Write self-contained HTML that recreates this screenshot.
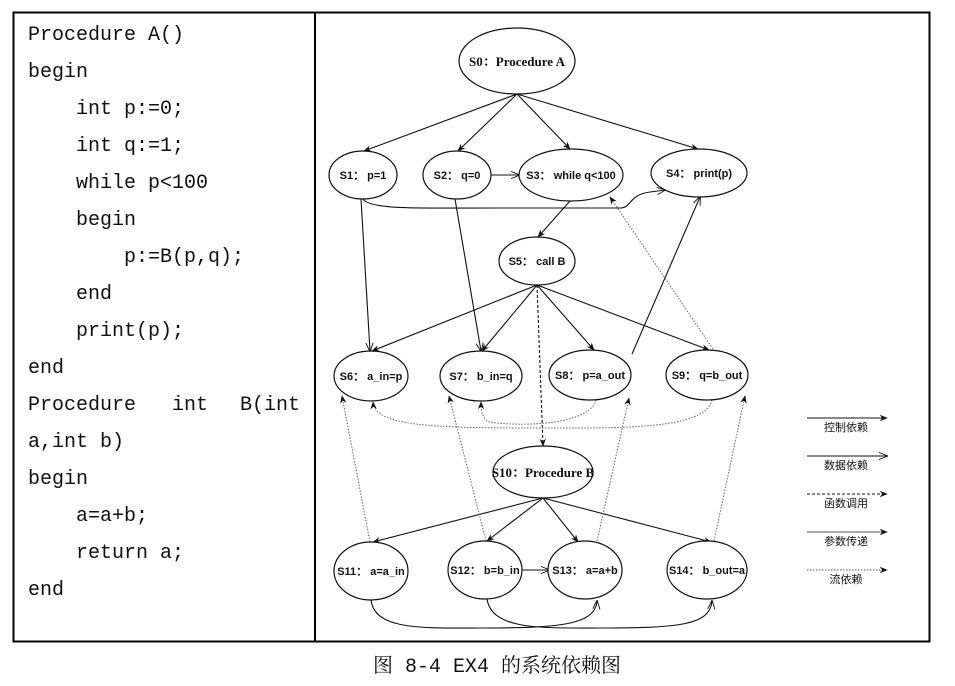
<!DOCTYPE html>
<html><head><meta charset="utf-8"><style>
html,body{margin:0;padding:0;background:#fff;}
svg{display:block}
.code{font-family:"Liberation Mono","Noto Serif CJK SC",monospace;font-size:20px;fill:#111}
.n{font-family:"Liberation Sans",sans-serif;font-size:11px;font-weight:bold;fill:#111}
.ns{font-family:"Liberation Serif","Noto Serif CJK SC",serif;font-size:13px;font-weight:bold;fill:#111}
.lg{font-family:"Liberation Sans","Noto Sans CJK SC",sans-serif;font-size:11px;fill:#111}
.cap{font-family:"Liberation Mono","Noto Serif CJK SC",serif;font-size:20px;fill:#111}
</style></head><body>
<svg width="955" height="686" viewBox="0 0 955 686" xmlns="http://www.w3.org/2000/svg">
<defs>
<marker id="f" viewBox="0 0 10 10" refX="9" refY="5" markerWidth="8" markerHeight="8" orient="auto" markerUnits="userSpaceOnUse"><path d="M0,1 L10,5 L0,9 L3,5 z" fill="#111"/></marker>
<marker id="o" viewBox="0 0 10 10" refX="9" refY="5" markerWidth="9" markerHeight="9" orient="auto" markerUnits="userSpaceOnUse"><path d="M0,1 L10,5 L0,9" fill="none" stroke="#111" stroke-width="1"/></marker>
</defs>
<rect x="13.5" y="12.5" width="916" height="629" fill="none" stroke="#000" stroke-width="2"/>
<line x1="315" y1="12" x2="315" y2="642" stroke="#000" stroke-width="2"/>
<g class="code">
<text x="28" y="40">Procedure A()</text>
<text x="28" y="77">begin</text>
<text x="76" y="114">int p:=0;</text>
<text x="76" y="151">int q:=1;</text>
<text x="76" y="188">while p&lt;100</text>
<text x="76" y="225">begin</text>
<text x="124" y="262">p:=B(p,q);</text>
<text x="76" y="299">end</text>
<text x="76" y="336">print(p);</text>
<text x="28" y="373">end</text>
<text x="28" y="410">Procedure</text><text x="172" y="410">int</text><text x="240" y="410">B(int</text>
<text x="28" y="447">a,int b)</text>
<text x="28" y="484">begin</text>
<text x="76" y="521">a=a+b;</text>
<text x="76" y="558">return a;</text>
<text x="28" y="595">end</text>
</g>
<g fill="none" stroke="#111" stroke-width="1.1">
<!-- control -->
<line x1="517" y1="94" x2="364" y2="151" marker-end="url(#f)"/>
<line x1="517" y1="94" x2="458" y2="151" marker-end="url(#f)"/>
<line x1="517" y1="94" x2="570" y2="149" marker-end="url(#f)"/>
<line x1="517" y1="94" x2="698" y2="149" marker-end="url(#f)"/>
<line x1="570" y1="201" x2="538" y2="237" marker-end="url(#f)"/>
<line x1="537" y1="285" x2="372" y2="351" marker-end="url(#f)"/>
<line x1="537" y1="285" x2="482" y2="351" marker-end="url(#f)"/>
<line x1="537" y1="285" x2="594" y2="350" marker-end="url(#f)"/>
<line x1="537" y1="285" x2="709" y2="350" marker-end="url(#f)"/>
<line x1="543" y1="498" x2="373" y2="542" marker-end="url(#f)"/>
<line x1="543" y1="498" x2="487" y2="541" marker-end="url(#f)"/>
<line x1="543" y1="498" x2="578" y2="542" marker-end="url(#f)"/>
<line x1="543" y1="498" x2="711" y2="542" marker-end="url(#f)"/>
<line x1="361" y1="199" x2="370" y2="351" marker-end="url(#o)"/>
<line x1="455" y1="199" x2="481" y2="351" marker-end="url(#o)"/>
<!-- data -->
<path d="M363,199 C370,210 420,208 500,208 L620,208 C632,208 628,195 650,192 L665,190" marker-end="url(#o)"/>
<line x1="491" y1="175" x2="519" y2="175" marker-end="url(#o)"/>
<line x1="521" y1="570" x2="549" y2="570" marker-end="url(#o)"/>
<line x1="632" y1="354" x2="700" y2="197" marker-end="url(#o)"/>
<path d="M371,600 C375,630 420,628 480,628 C560,628 595,625 597,601" marker-end="url(#o)"/>
<path d="M487,599 C492,630 540,628 600,628 C680,628 710,625 712,601" marker-end="url(#o)"/>
</g>
<!-- call -->
<line x1="537" y1="285" x2="543" y2="446" stroke="#111" stroke-width="1.1" stroke-dasharray="3,2" marker-end="url(#f)"/>
<!-- param -->
<g stroke="#666" stroke-width="1" stroke-dasharray="1.5,1.5" fill="none">
<line x1="370" y1="542" x2="342" y2="396" marker-end="url(#f)"/>
<line x1="486" y1="541" x2="449" y2="396" marker-end="url(#f)"/>
<line x1="597" y1="541" x2="629" y2="398" marker-end="url(#f)"/>
<line x1="714" y1="541" x2="745" y2="396" marker-end="url(#f)"/>
<!-- flow -->
<line x1="713" y1="349" x2="610" y2="197" marker-end="url(#f)"/>
<path d="M596,400 C590,425 520,427 490,422 C482,420 481,410 481,402" marker-end="url(#f)"/>
<path d="M712,400 C705,430 620,428 540,428 C430,428 375,426 373,402" marker-end="url(#f)"/>
</g>
<g fill="#fff" stroke="#111" stroke-width="1.2">
<ellipse cx="517" cy="61" rx="58" ry="33"/>
<ellipse cx="363" cy="175" rx="34" ry="24"/>
<ellipse cx="457" cy="175" rx="34" ry="24"/>
<ellipse cx="571" cy="175" rx="52" ry="26"/>
<ellipse cx="699" cy="173" rx="48" ry="24"/>
<ellipse cx="537" cy="261" rx="38" ry="24"/>
<ellipse cx="371" cy="376" rx="37" ry="25"/>
<ellipse cx="481" cy="376" rx="41" ry="25"/>
<ellipse cx="590" cy="375" rx="41" ry="25"/>
<ellipse cx="707" cy="375" rx="41" ry="25"/>
<ellipse cx="543" cy="472" rx="50" ry="26"/>
<ellipse cx="371" cy="571" rx="37" ry="29"/>
<ellipse cx="485" cy="570" rx="37" ry="29"/>
<ellipse cx="585" cy="570" rx="37" ry="29"/>
<ellipse cx="707" cy="570" rx="40" ry="29"/>
</g>
<g text-anchor="middle">
<text class="ns" x="517" y="66">S0：Procedure A</text>
<text class="n" x="363" y="179">S1： p=1</text>
<text class="n" x="457" y="179">S2： q=0</text>
<text class="n" x="571" y="179">S3： while q&lt;100</text>
<text class="n" x="699" y="177">S4： print(p)</text>
<text class="n" x="537" y="265">S5： call B</text>
<text class="n" x="371" y="380">S6： a_in=p</text>
<text class="n" x="481" y="380">S7： b_in=q</text>
<text class="n" x="590" y="379">S8： p=a_out</text>
<text class="n" x="707" y="379">S9： q=b_out</text>
<text class="ns" x="543" y="477">S10：Procedure B</text>
<text class="n" x="371" y="575">S11： a=a_in</text>
<text class="n" x="485" y="574">S12： b=b_in</text>
<text class="n" x="585" y="574">S13： a=a+b</text>
<text class="n" x="707" y="574">S14： b_out=a</text>
</g>
<g stroke="#111" stroke-width="1.1" fill="none">
<line x1="807" y1="418" x2="887" y2="418" marker-end="url(#f)"/>
<line x1="807" y1="456" x2="887" y2="456" marker-end="url(#o)"/>
<line x1="807" y1="494" x2="887" y2="494" stroke-dasharray="3,2" marker-end="url(#f)"/>
<line x1="807" y1="532" x2="887" y2="532" stroke="#555" marker-end="url(#f)"/>
<line x1="807" y1="570" x2="887" y2="570" stroke="#555" stroke-dasharray="1.5,1.5" marker-end="url(#f)"/>
</g>
<g class="lg" text-anchor="middle">
<text x="846" y="431">控制依赖</text>
<text x="846" y="469">数据依赖</text>
<text x="846" y="507">函数调用</text>
<text x="846" y="545">参数传递</text>
<text x="846" y="583">流依赖</text>
</g>
<text class="cap" x="497" y="672" text-anchor="middle">图 8-4 EX4 的系统依赖图</text>
</svg>
</body></html>
